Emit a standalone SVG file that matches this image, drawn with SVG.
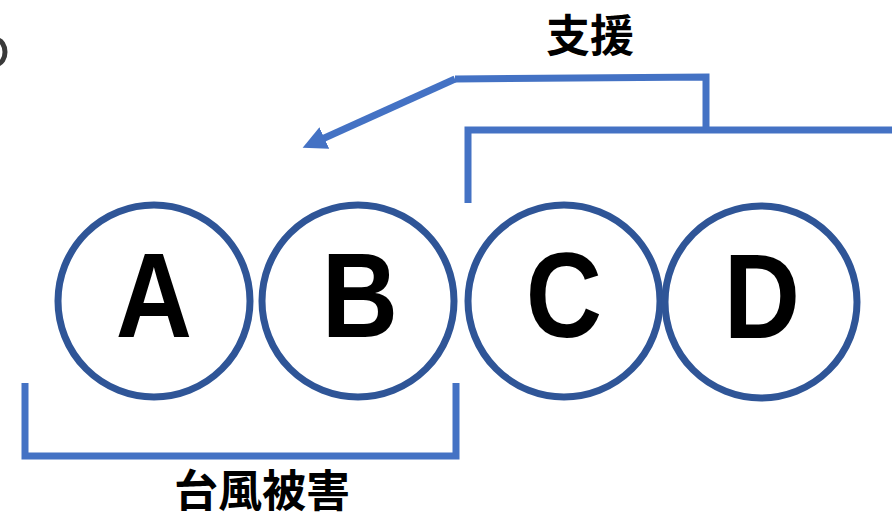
<svg xmlns="http://www.w3.org/2000/svg" width="892" height="519" viewBox="0 0 892 519">
<style>
.node circle{fill:#fff;stroke:#2F5597;stroke-width:7}
.node text{font-family:"Liberation Sans",Arial,sans-serif;font-weight:bold;font-size:120px;fill:#000;text-anchor:middle}
.conn{fill:none;stroke:#4472C4;stroke-width:7}
.lbl{font-family:"Noto Sans CJK JP","Noto Sans CJK SC",sans-serif;font-weight:bold;font-size:44px;fill:#000;text-anchor:middle}
</style>
<defs>
<marker id="ah" viewBox="0 0 10 10" refX="2" refY="5" markerWidth="3.4" markerHeight="3.4" markerUnits="strokeWidth" orient="auto">
<path d="M0,0 L10,5 L0,10 z" fill="#4472C4"/>
</marker>
</defs>
<rect width="892" height="519" fill="#fff"/>
<ellipse cx="-3" cy="52" rx="8" ry="12" fill="none" stroke="#3a3a3a" stroke-width="5"/>
<g id="connectors">
<path class="conn" d="M455,79 L706,77 L706,130"/>
<path class="conn" d="M468,203 L468,130 L892,130"/>
<path class="conn" d="M455,79 L320,140" marker-end="url(#ah)"/>
<path class="conn" d="M25,383 L25,456 L456,456 L456,383"/>
</g>
<g id="nodeA" class="node"><circle cx="154" cy="301" r="96"/><text transform="translate(154,337) scale(0.88,1)">A</text></g>
<g id="nodeB" class="node"><circle cx="358" cy="301" r="96"/><text transform="translate(360,337) scale(0.88,1)">B</text></g>
<g id="nodeC" class="node"><circle cx="564" cy="301" r="96"/><text transform="translate(564,337) scale(0.88,1)">C</text></g>
<g id="nodeD" class="node"><circle cx="761" cy="302" r="96"/><text transform="translate(762,338) scale(0.88,1)">D</text></g>
<text class="lbl" x="590" y="52">支援</text>
<text class="lbl" x="262" y="507">台風被害</text>
</svg>
